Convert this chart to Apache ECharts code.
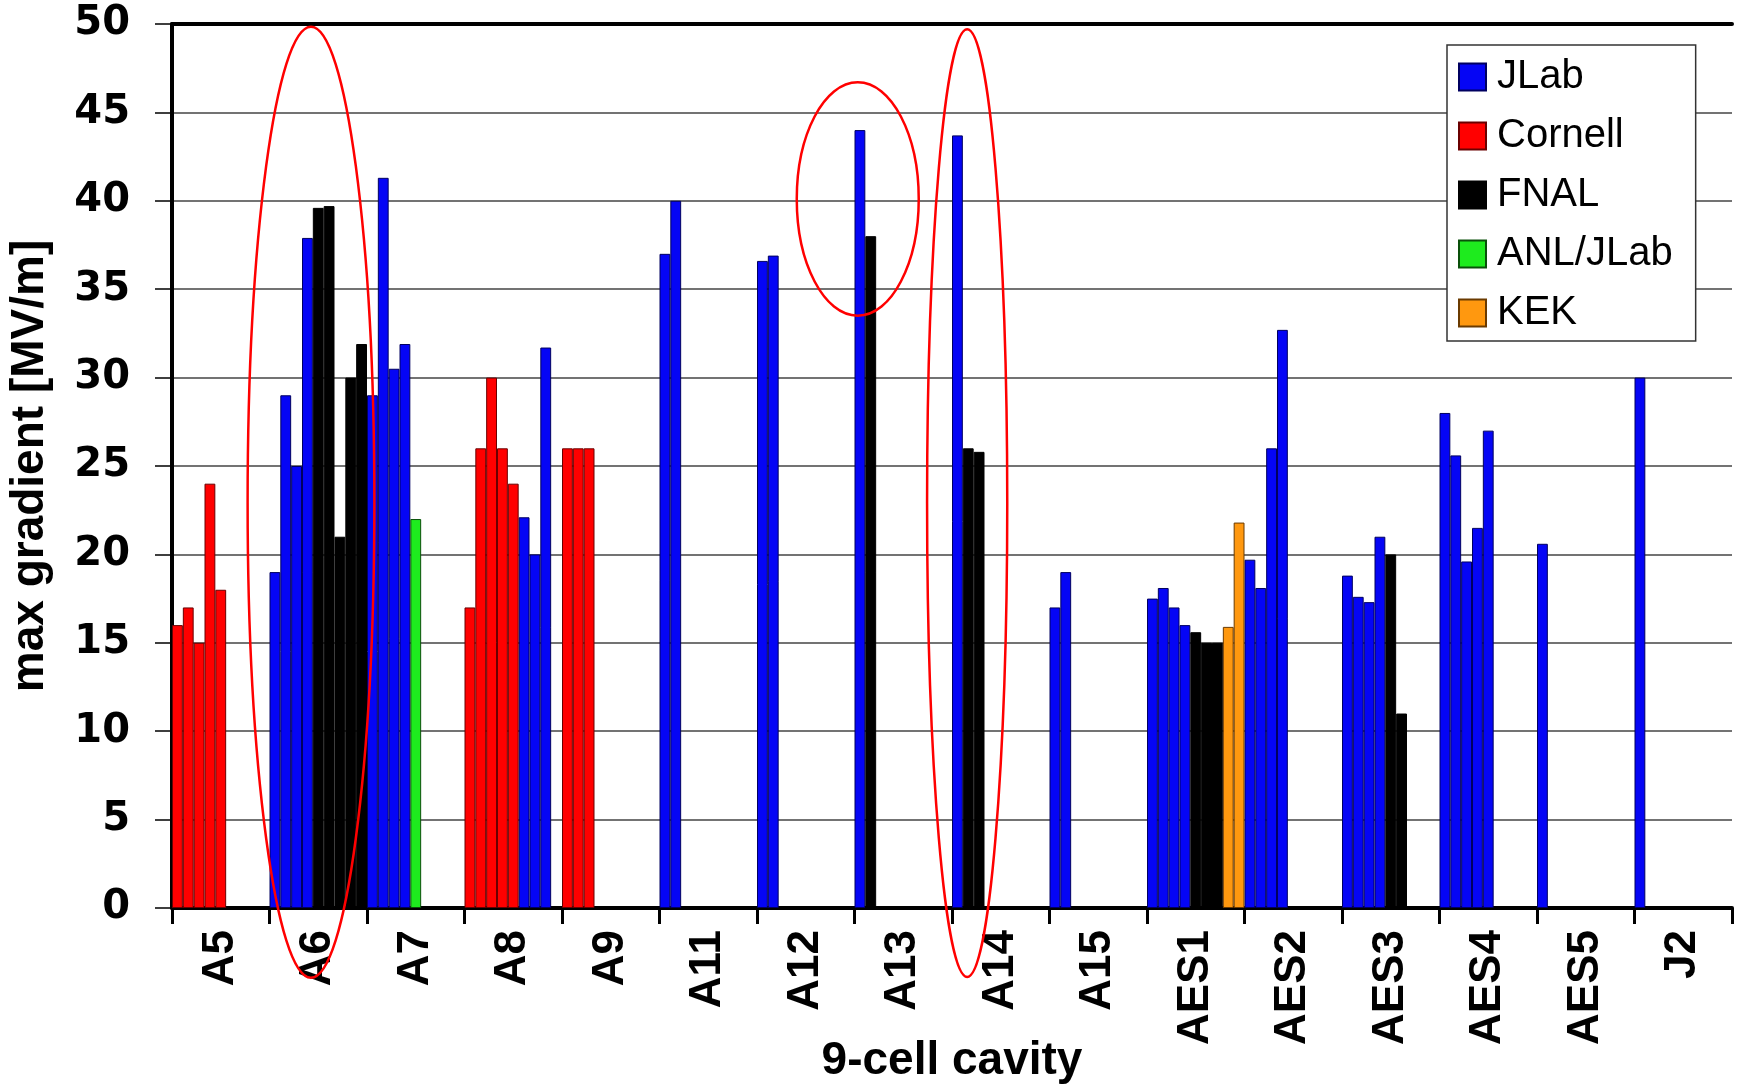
<!DOCTYPE html>
<html>
<head>
<meta charset="utf-8">
<script src="https://cdn.jsdelivr.net/npm/echarts@6/dist/echarts.min.js"></script>
<style>
html,body{margin:0;padding:0;background:#fff;}
#chart{width:1741px;height:1089px;}
</style>
</head>
<body>
<div id="chart"></div>
<script>
// ---- data ----
const cavities = ['A5','A6','A7','A8','A9','A11','A12','A13','A14','A15','AES1','AES2','AES3','AES4','AES5','J2'];
const labNames = ['JLab','Cornell','FNAL','ANL/JLab','KEK'];
const labColors = ['#0505F5','#FF0000','#000000','#1EEB1E','#FF980F'];
const labBorders = ['#000060','#6A0000','#000000','#0A500A','#6A3A00'];
// max gradient per test, cavity by cavity (MV/m)
const gradients = [
  [16,17,15,24,18],
  [19,29,25,37.9,39.6,39.7,21,30,31.9],
  [29,41.3,30.5,31.9,22],
  [17,26,30,26,24,22.1,20,31.7],
  [26,26,26],
  [37,40],
  [36.6,36.9],
  [44,38],
  [43.7,26,25.8],
  [17,19],
  [17.5,18.1,17,16,15.6,15,15,15.9,21.8],
  [19.7,18.1,26,32.7],
  [18.8,17.6,17.3,21,20,11],
  [28,25.6,19.6,21.5,27],
  [20.6],
  [30]
];
// lab that performed each test (same shape as gradients)
const labs = [
  ['Cornell','Cornell','Cornell','Cornell','Cornell'],
  ['JLab','JLab','JLab','JLab','FNAL','FNAL','FNAL','FNAL','FNAL'],
  ['JLab','JLab','JLab','JLab','ANL/JLab'],
  ['Cornell','Cornell','Cornell','Cornell','Cornell','JLab','JLab','JLab'],
  ['Cornell','Cornell','Cornell'],
  ['JLab','JLab'],
  ['JLab','JLab'],
  ['JLab','FNAL'],
  ['JLab','FNAL','FNAL'],
  ['JLab','JLab'],
  ['JLab','JLab','JLab','JLab','FNAL','FNAL','FNAL','KEK','KEK'],
  ['JLab','JLab','JLab','JLab'],
  ['JLab','JLab','JLab','JLab','FNAL','FNAL'],
  ['JLab','JLab','JLab','JLab','JLab'],
  ['JLab'],
  ['JLab']
];
const slotsPerCavity = 9;
const yTicks = {min:0, max:50, interval:5};
// highlighted groups: [centre slot, half-width in slots, centre value, half-height in MV/m]
const highlights = [
  [12.33, 5.85, 22.95, 26.9],
  [62.8, 5.63, 40.1, 6.6],
  [72.9, 3.7, 22.9, 26.8]
];

// ---- build ----
const slots = [];
cavities.forEach(c => { for (let k = 0; k < slotsPerCavity; k++) slots.push(c + '_' + k); });

const series = labNames.map((lab, li) => {
  const data = new Array(slots.length).fill(null);
  gradients.forEach((vals, ci) => {
    vals.forEach((v, k) => { if (labs[ci][k] === lab) data[ci * slotsPerCavity + k] = v; });
  });
  return {
    name: lab, type: 'bar', xAxisIndex: 0, yAxisIndex: 0,
    barGap: '-100%', barCategoryGap: '0%',
    data: data,
    itemStyle: {color: labColors[li], borderColor: labBorders[li], borderWidth: 1},
    emphasis: {disabled: true}
  };
});

const chart = echarts.init(document.getElementById('chart'), null, {renderer: 'canvas'});
const font = 'Liberation Sans, Arial, sans-serif';
chart.setOption({
  animation: false,
  backgroundColor: '#ffffff',
  grid: {left: 172, right: 9, top: 24, bottom: 181, containLabel: false, outerBoundsMode: 'none'},
  legend: {
    orient: 'vertical', left: 1447, top: 45,
    data: labNames,
    icon: 'rect', itemWidth: 27, itemHeight: 27, itemGap: 19,
    padding: [12, 23, 8, 11],
    backgroundColor: '#ffffff', borderColor: '#333', borderWidth: 1.5,
    textStyle: {fontFamily: font, fontSize: 40, color: '#000', lineHeight: 40, padding: [0,0,0,6]},
    selectedMode: false
  },
  xAxis: [
    {
      type: 'category', data: slots, position: 'bottom',
      axisLine: {show: true, lineStyle: {color: '#000', width: 4}},
      axisTick: {show: false}, axisLabel: {show: false}, splitLine: {show: false}
    },
    {
      type: 'category', data: cavities, position: 'bottom',
      axisLine: {show: false},
      axisTick: {show: true, length: 16, interval: 0, lineStyle: {color: '#000', width: 3}},
      axisLabel: {show: true, interval: 0, rotate: 90, margin: 22, fontFamily: font, fontWeight: 'bold', fontSize: 44, color: '#000'},
      splitLine: {show: false},
      name: '9-cell cavity', nameLocation: 'middle', nameGap: 130, nameMoveOverlap: false,
      nameTextStyle: {fontFamily: font, fontWeight: 'bold', fontSize: 46, color: '#000', verticalAlign: 'top'}
    },
    {
      type: 'category', data: cavities, position: 'top',
      axisLine: {show: true, lineStyle: {color: '#000', width: 4}},
      axisTick: {show: false}, axisLabel: {show: false}, splitLine: {show: false}
    }
  ],
  yAxis: {
    type: 'value', min: yTicks.min, max: yTicks.max, interval: yTicks.interval,
    axisLine: {show: true, lineStyle: {color: '#000', width: 4}},
    axisTick: {show: true, length: 17, lineStyle: {color: '#000', width: 1.5}},
    axisLabel: {margin: 42, fontFamily: 'DejaVu Sans, sans-serif', fontWeight: 'bold', fontSize: 40, color: '#000'},
    splitLine: {show: true, lineStyle: {color: '#444', width: 1.5}},
    name: 'max gradient [MV/m]', nameLocation: 'middle', nameRotate: 90, nameGap: 119, nameMoveOverlap: false,
    nameTextStyle: {fontFamily: font, fontWeight: 'bold', fontSize: 46, color: '#000'}
  },
  series: series
});

// red ellipses, positioned through the axes
const x0 = chart.convertToPixel({xAxisIndex: 0}, 0);
const x1 = chart.convertToPixel({xAxisIndex: 0}, 1);
const slotW = x1 - x0;
const graphics = highlights.map(h => {
  const cx = x0 + h[0] * slotW;
  const cy = chart.convertToPixel({yAxisIndex: 0}, h[2]);
  const top = chart.convertToPixel({yAxisIndex: 0}, h[2] + h[3]);
  return {
    type: 'ellipse', z: 100, silent: true,
    shape: {cx: cx, cy: cy, rx: h[1] * slotW, ry: cy - top},
    style: {fill: null, stroke: '#FF0000', lineWidth: 2.5}
  };
});
chart.setOption({graphic: graphics});
</script>
</body>
</html>
